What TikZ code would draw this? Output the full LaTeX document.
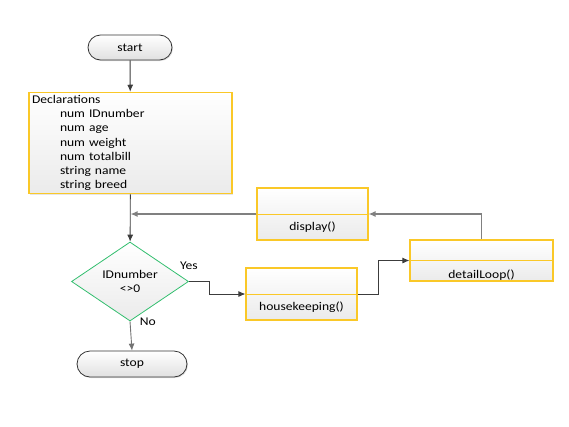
\documentclass[tikz,border=0pt]{standalone}
\usepackage{fontspec}
\setmainfont{Carlito}[FakeStretch=1.15]
\usepackage{tikz}
\usetikzlibrary{shapes,shapes.geometric,shapes.misc,arrows,arrows.meta,shadows,positioning}

\definecolor{boxyellow}{RGB}{250,200,40}
\definecolor{diagreen}{RGB}{50,190,110}
\definecolor{linegray}{RGB}{60,60,60}

\begin{document}
\begin{tikzpicture}[x=1pt, y=-1pt,
	font=\fontsize{11.8}{14.2}\selectfont,
	term/.style={rounded rectangle, draw=black!80, line width=0.8pt, top color=white, bottom color=black!12, drop shadow={shadow xshift=1pt, shadow yshift=-1pt, opacity=.25}, minimum width=84, minimum height=25, inner sep=0},
	declbox/.style={draw=boxyellow, line width=1.1pt, top color=white, bottom color=black!8, text width=197, align=left, inner sep=3, minimum height=100, drop shadow={shadow xshift=1pt, shadow yshift=-1pt, opacity=.2}},
	modbox/.style={draw=boxyellow, line width=1.1pt, top color=white, bottom color=black!8, text depth=0, inner ysep=0, drop shadow={shadow xshift=1pt, shadow yshift=-1pt, opacity=.2}},
	decision/.style={diamond, draw=diagreen, line width=0.8pt, top color=white, bottom color=black!8, minimum width=117, minimum height=79, aspect=1.48, inner sep=0, align=center},
	conn/.style={draw=linegray, line width=0.9pt, -{Latex[length=7pt,width=6pt]}},
	back/.style={draw=black!50, line width=1.2pt, -{Latex[length=7pt,width=6pt]}}
]
\useasboundingbox (0,0) rectangle (569,426);

\node[term] (start) at (130,47.5) {start};
\node[declbox] (decl) at (130.5,143) {Declarations\\
	\hspace*{28pt}num IDnumber\\
	\hspace*{28pt}num age\\
	\hspace*{28pt}num weight\\
	\hspace*{28pt}num totalbill\\
	\hspace*{28pt}string name\\
	\hspace*{28pt}string breed};
\node[decision] (test) at (130,281.5) {IDnumber\\{<>}0};
\node[term, minimum width=110, minimum height=26] (stop) at (132,364) {stop};

\node[modbox, minimum width=111, minimum height=52, text height=33] (display) at (312.5,214) {display()};
\node[modbox, minimum width=111, minimum height=52, text height=33] (house) at (301.5,294) {housekeeping()};
\node[modbox, minimum width=143, minimum height=41, text height=35] (detail) at (481.5,260.5) {detailLoop()};

% dividers
\draw[boxyellow, line width=1pt] (display.west) -- (display.east);
\draw[boxyellow, line width=1pt] (house.west) -- (house.east);
\draw[boxyellow, line width=1pt] (detail.west) -- (detail.east);

\draw[conn] (start) -- (decl);
\draw[conn] (decl) -- (test);
\draw[back] (display.west) -- (decl.south |- display.west);
\draw[conn] (test.east) node[above=8pt] {Yes} -- ++(21,0) |- (house.west);
\draw[conn] (house.east) -- ++(21,0) |- (detail.west);
\draw[back] (detail.north) |- (display.east);
\draw[conn, draw=black!55] (test.south) node[right=6pt] {No} -- (stop.north);
\end{tikzpicture}
\end{document}
